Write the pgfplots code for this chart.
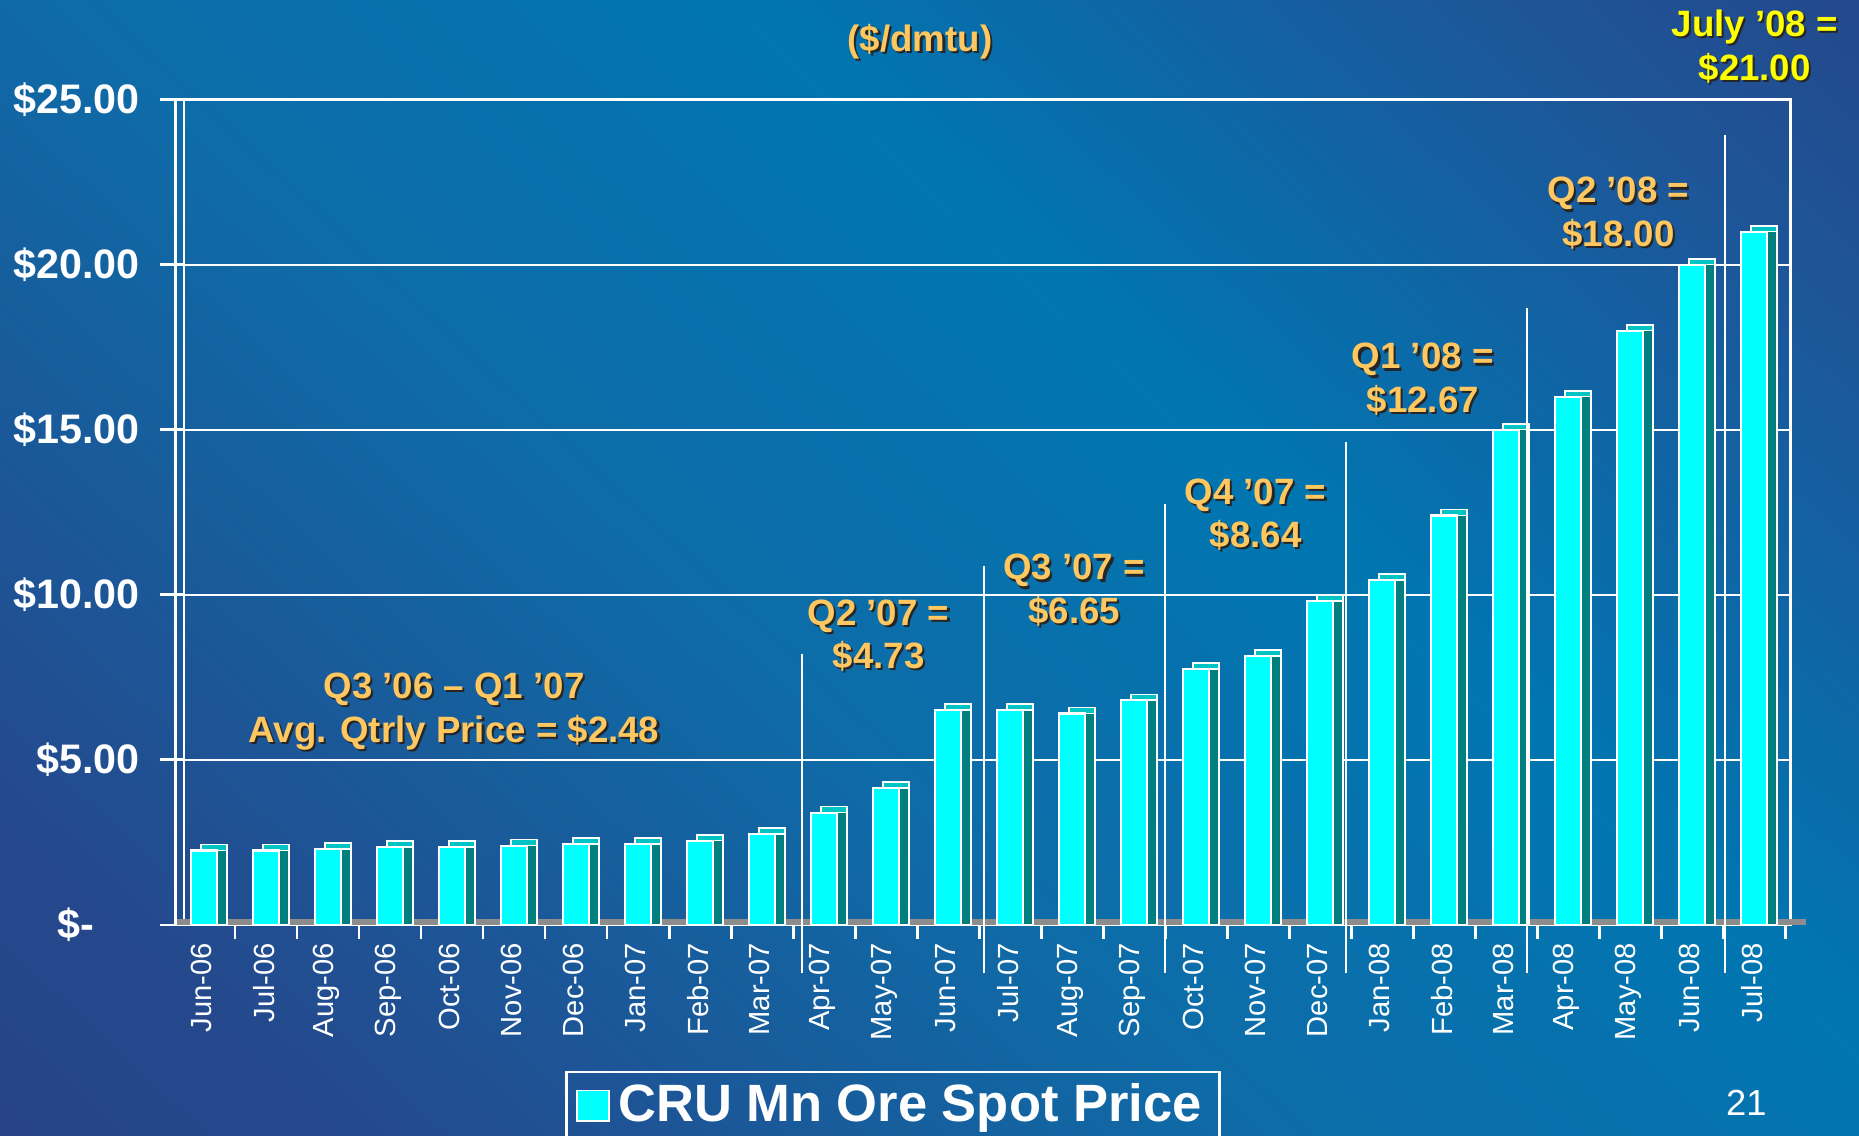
\documentclass[border=0pt]{standalone}
\usepackage{fontspec}
\setmainfont{Liberation Sans}
\usepackage{pgfplots}
\usepackage{pgfplotstable}
\pgfplotsset{compat=1.18}
\usetikzlibrary{calc}

\definecolor{bgA}{HTML}{2A3C80}
\definecolor{bgB}{HTML}{25488C}
\definecolor{bgC}{HTML}{0E6CA8}
\definecolor{bgD}{HTML}{0076B1}
\definecolor{bgE}{HTML}{1D5699}
\definecolor{bgF}{HTML}{283F82}
\definecolor{barfront}{HTML}{00FFFF}
\definecolor{bartop}{HTML}{00C4C4}
\definecolor{barside}{HTML}{007F7F}
\definecolor{floorgray}{HTML}{8C8C8C}
\definecolor{qgold}{HTML}{FFC75F}
\definecolor{qyellow}{HTML}{FFFF00}

\pgfdeclarehorizontalshading{slidebg}{100bp}{color(0bp)=(bgA); color(22bp)=(bgB); color(44bp)=(bgC); color(60bp)=(bgD); color(77bp)=(bgE); color(92bp)=(bgF); color(100bp)=(bgF)}

\newcommand{\qfont}{\fontsize{8.8}{10.5}\selectfont\bfseries}
% label with a dark drop shadow
\newcommand{\qlabel}[3]{%
  \node[text=black!85, font=\qfont, align=center] at ($(#1)+(0.018,-0.018)$) {#3};
  \node[text=#2, font=\qfont, align=center] at (#1) {#3};}

\pgfplotstableread{
idx price
0 2.25
1 2.25
2 2.30
3 2.35
4 2.35
5 2.40
6 2.45
7 2.45
8 2.55
9 2.75
10 3.40
11 4.15
12 6.50
13 6.50
14 6.40
15 6.80
16 7.75
17 8.15
18 9.80
19 10.45
20 12.40
21 15.00
22 16.00
23 18.00
24 20.00
25 21.00
}\spotdata

\begin{document}
\begin{tikzpicture}
\useasboundingbox (0,0) rectangle (15.68,9.58);
\clip (0,0) rectangle (15.68,9.58);
\shade[shading=slidebg, shading angle=47] (0,0) rectangle (15.68,9.58);

\begin{axis}[
  at={(1.55cm,1.78cm)}, anchor=south west,
  width=13.55cm, height=6.96cm, scale only axis,
  xmin=-0.33, xmax=25.58, ymin=0, ymax=25,
  clip=false,
  axis line style={white, line width=0.6pt},
  tick pos=left, tick align=outside,
  ytick={0,5,...,25},
  yticklabels={\$-\hspace*{0.38cm},\$5.00,\$10.00,\$15.00,\$20.00,\$25.00},
  ytick style={white, line width=0.6pt},
  major tick length=0.2cm,
  yticklabel style={font=\fontsize{9.9}{12}\selectfont\bfseries, text=white, anchor=east, xshift=-0.05cm},
  ymajorgrids, grid style={white, line width=0.5pt},
  xtick={0,...,25},
  xticklabels={Jun-06,Jul-06,Aug-06,Sep-06,Oct-06,Nov-06,Dec-06,Jan-07,Feb-07,Mar-07,Apr-07,May-07,Jun-07,Jul-07,Aug-07,Sep-07,Oct-07,Nov-07,Dec-07,Jan-08,Feb-08,Mar-08,Apr-08,May-08,Jun-08,Jul-08},
  xtick style={draw=none},
  xticklabel style={font=\fontsize{7}{8}\selectfont, text=white, rotate=90, anchor=east, xshift=0.17cm, yshift=0.02cm},
  extra x ticks={-0.5,0.5,...,25.5},
  extra x tick labels={},
  extra x tick style={xtick style={draw=white, line width=0.6pt}, major tick length=0.12cm},
  legend style={at={(0.2376,-0.1767)}, anchor=north west, draw=white, line width=0.6pt, fill=none,
    text=white, font=\fontsize{12.6}{15}\selectfont\bfseries, inner xsep=0.08cm, inner ysep=0.03cm},
  legend image code/.code={\draw[fill=barfront, draw=white, line width=0.4pt] (0.03cm,-0.13cm) rectangle (0.30cm,0.13cm);},
]
% floor strip
\fill[floorgray] (axis cs:-0.464,0) rectangle ($(axis cs:25.5,0)+(0,0.045cm)$);
% 3-D bars: top face, side face, front face
\addplot[ybar, bar width=0.22cm, bar shift=0pt, fill=bartop, draw=white, line width=0.4pt,
  xshift=0.08cm, yshift=0.05cm, forget plot] table[x=idx, y=price] {\spotdata};
\addplot[ybar, bar width=0.22cm, bar shift=0pt, fill=barside, draw=white, line width=0.4pt,
  xshift=0.08cm, forget plot] table[x=idx, y=price] {\spotdata};
\addplot[ybar, bar width=0.22cm, bar shift=0pt, fill=barfront, draw=white, line width=0.5pt]
  table[x=idx, y=price] {\spotdata};
\addlegendentry{CRU Mn Ore Spot Price}
% front wall edge
\draw[white, line width=0.6pt] (axis cs:-0.464,0) -- (axis cs:-0.464,25) -- (axis cs:-0.33,25);
% quarter separators
\draw[white, line width=0.5pt] (axis cs:9.64,-1.47) -- (axis cs:9.64,8.19);
\draw[white, line width=0.5pt] (axis cs:12.57,-1.47) -- (axis cs:12.57,10.88);
\draw[white, line width=0.5pt] (axis cs:15.49,-1.47) -- (axis cs:15.49,12.75);
\draw[white, line width=0.5pt] (axis cs:18.42,-1.47) -- (axis cs:18.42,14.62);
\draw[white, line width=0.5pt] (axis cs:21.34,-1.47) -- (axis cs:21.34,18.68);
\draw[white, line width=0.5pt] (axis cs:24.52,-1.47) -- (axis cs:24.52,23.92);
\end{axis}

\qlabel{7.76,9.23}{qgold}{(\$/dmtu)}
\qlabel{3.83,3.58}{qgold}{Q3 ’06 – Q1 ’07\\Avg. Qtrly Price = \$2.48}
\qlabel{7.41,4.22}{qgold}{Q2 ’07 =\\\$4.73}
\qlabel{9.06,4.60}{qgold}{Q3 ’07 =\\\$6.65}
\qlabel{10.59,5.24}{qgold}{Q4 ’07 =\\\$8.64}
\qlabel{12.00,6.38}{qgold}{Q1 ’08 =\\\$12.67}
\qlabel{13.65,7.78}{qgold}{Q2 ’08 =\\\$18.00}
\qlabel{14.80,9.19}{qyellow}{July ’08 =\\\$21.00}
\node[text=white, font=\fontsize{8.7}{10}\selectfont] at (14.73,0.28) {21};
\end{tikzpicture}
\end{document}
